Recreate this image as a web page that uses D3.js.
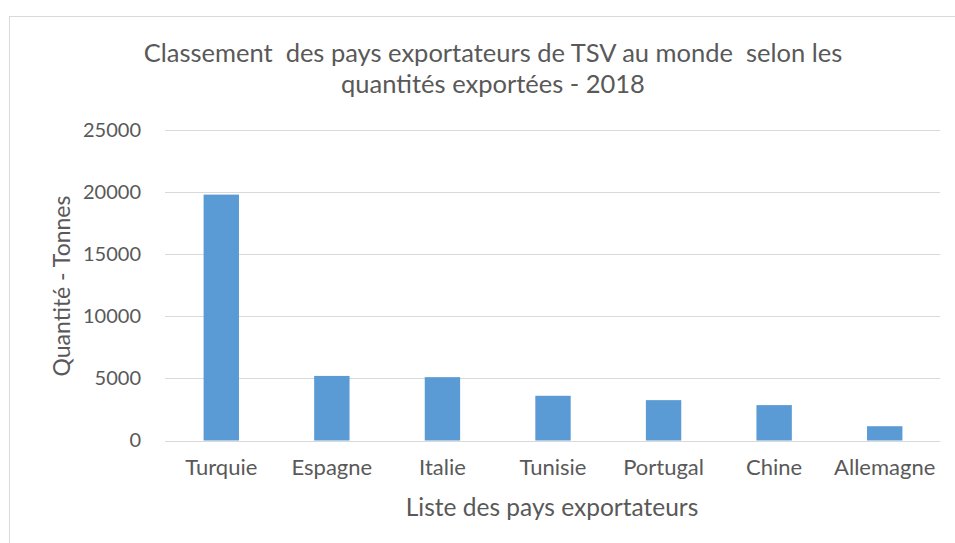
<!DOCTYPE html>
<html>
<head>
<meta charset="utf-8">
<script src="https://cdn.jsdelivr.net/npm/d3@7"></script>
<style>
  body { margin: 0; background: #fff; }
  svg { display: block; font-family: Lato, "Open Sans", sans-serif; }
</style>
</head>
<body>
<svg width="955" height="543"></svg>
<script>
// données du graphique
const pays = ["Turquie", "Espagne", "Italie", "Tunisie", "Portugal", "Chine", "Allemagne"];
const quantites = [19800, 5200, 5100, 3600, 3250, 2850, 1150];
const ticksY = [0, 5000, 10000, 15000, 20000, 25000];

const svg = d3.select("svg");
const area = { left: 166, right: 940, top: 130, bottom: 440.5 };
const txt = "#595959";

// cadre du graphique
svg.append("rect")
    .attr("x", 9.5).attr("y", 16.5)
    .attr("width", 1000).attr("height", 600)
    .attr("fill", "#fff")
    .attr("stroke", "#d9d9d9").attr("stroke-width", 1);

// titre (double espaces conservés)
const titre = ["Classement  des pays exportateurs de TSV au monde  selon les", "quantités exportées - 2018"];
svg.append("g")
    .selectAll("text")
    .data(titre)
    .enter()
    .append("text")
    .attr("x", 493)
    .attr("y", (d, i) => 62 + i * 31)
    .attr("text-anchor", "middle")
    .style("white-space", "pre")
    .style("font-size", "25.5px").style("fill", txt)
    .text(d => d);

// échelles
const scX = d3.scaleBand()
    .domain(pays)
    .range([area.left, area.right])
    .paddingInner(0.68).paddingOuter(0.34);
const scY = d3.scaleLinear()
    .domain([0, 25000])
    .range([area.bottom, area.top]);

// grille
svg.append("g")
    .selectAll("line")
    .data(ticksY)
    .enter()
    .append("line")
    .attr("x1", area.left - 1).attr("x2", area.right)
    .attr("y1", d => Math.round(scY(d)) + 0.5)
    .attr("y2", d => Math.round(scY(d)) + 0.5)
    .style("stroke", "#d9d9d9").style("stroke-width", 1);

// axe Y
const axY = svg.append("g")
    .attr("transform", `translate(141, 0)`)
    .call(d3.axisLeft(scY).tickValues(ticksY).tickSize(0).tickPadding(0).tickFormat(d3.format("d")));
axY.select(".domain").remove();
axY.selectAll("text").style("font-size", "20px").style("fill", txt).style("font-family", "Lato, sans-serif");

// axe X
const axX = svg.append("g")
    .attr("transform", `translate(0, ${area.bottom})`)
    .call(d3.axisBottom(scX).tickSize(0).tickPadding(19));
axX.select(".domain").remove();
axX.selectAll("text").style("font-size", "22px").style("fill", txt).style("font-family", "Lato, sans-serif");

// barres
svg.append("g")
    .selectAll("rect")
    .data(pays)
    .enter()
    .append("rect")
    .attr("x", d => scX(d))
    .attr("width", scX.bandwidth())
    .attr("y", (d, i) => scY(quantites[i]))
    .attr("height", (d, i) => scY(0) - scY(quantites[i]))
    .style("fill", "#5b9bd5");

// titres des axes
svg.append("text")
    .attr("x", 552).attr("y", 516)
    .attr("text-anchor", "middle")
    .style("font-size", "24.5px").style("fill", txt)
    .text("Liste des pays exportateurs");
svg.append("text")
    .attr("transform", "translate(70, 286) rotate(-90)")
    .attr("text-anchor", "middle")
    .style("font-size", "23px").style("fill", txt)
    .text("Quantité - Tonnes");
</script>
</body>
</html>
